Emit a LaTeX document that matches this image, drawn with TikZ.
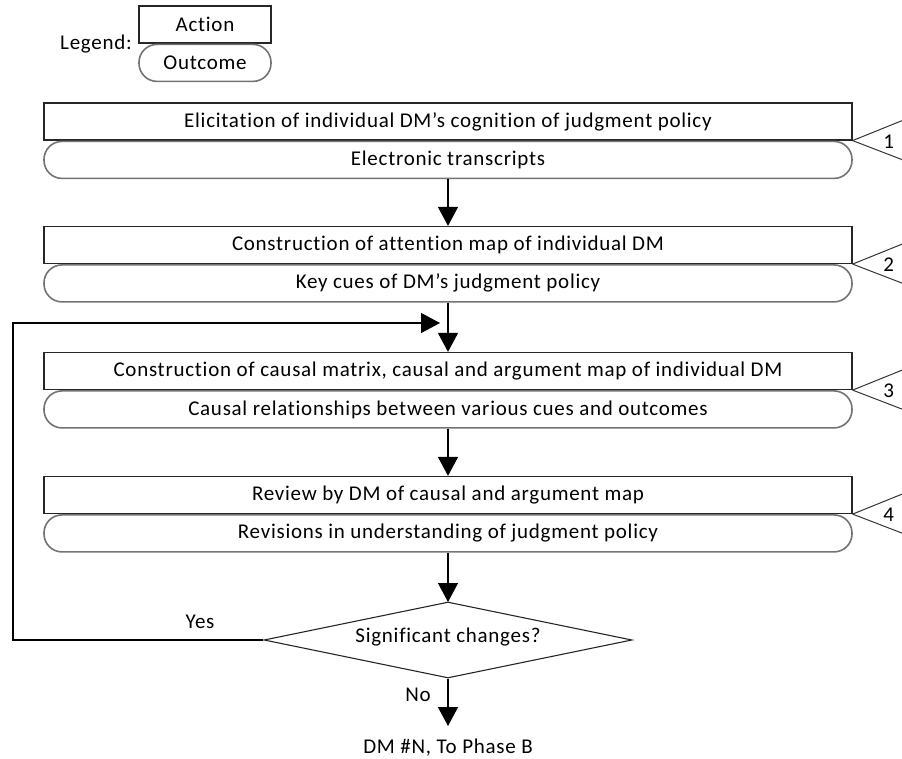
\documentclass[tikz,border=0pt]{standalone}
\usepackage{fontspec}
\setmainfont[LetterSpace=3.5,Ligatures=NoCommon]{Carlito}
\usetikzlibrary{arrows.meta,shapes.geometric,calc}
\begin{document}
\begin{tikzpicture}[x=1pt,y=-1pt,
  font=\fontsize{21}{25}\selectfont,
  actbox/.style={draw=black!85, line width=1.2pt, minimum width=808pt, minimum height=37pt, inner sep=0pt},
  outbox/.style={draw=black!55, line width=1.6pt, minimum width=808pt, minimum height=37pt, inner sep=0pt, rounded corners=18pt, anchor=north},
  legact/.style={draw=black!85, line width=1.2pt, minimum width=132pt, minimum height=37pt, inner sep=0pt},
  legout/.style={draw=black!55, line width=1.6pt, minimum width=132pt, minimum height=37pt, inner sep=0pt, rounded corners=18pt, anchor=north},
  arr/.style={draw=black, line width=1.3pt, -{Triangle[width=20pt,length=19pt]}},
  tri/.style={draw=black!80, line width=1pt},
  lbl/.style={inner sep=0pt}
]
\useasboundingbox (0,0) rectangle (902,759);

% legend
\node[lbl] (leg) at (96,44) {Legend:};
\node[legact] (la) at (205,24.5) {Action};
\node[legout] (lo) at (la.south) {Outcome};

% steps
\node[actbox] (a1) at (448,121.5) {Elicitation of individual DM’s cognition of judgment policy};
\node[outbox] (o1) at (a1.south) {Electronic transcripts};
\node[actbox] (a2) at (448,245) {Construction of attention map of individual DM};
\node[outbox] (o2) at (a2.south) {Key cues of DM’s judgment policy};
\node[actbox] (a3) at (448,371) {Construction of causal matrix, causal and argument map of individual DM};
\node[outbox] (o3) at (a3.south) {Causal relationships between various cues and outcomes};
\node[actbox] (a4) at (448,495) {Review by DM of causal and argument map};
\node[outbox] (o4) at (a4.south) {Revisions in understanding of judgment policy};

% side markers
\foreach \i in {1,2,3,4}{
  \draw[tri] (a\i.south east) -- ++(52,-21);
  \draw[tri] (a\i.south east) -- ++(52,20);
  \path (a\i.south east) ++(36,1) node[lbl] (n\i) {\i};
}

% decision
\node[draw=black!85, line width=1.1pt, shape=diamond, shape aspect=4.84, minimum width=368pt, minimum height=76pt, inner sep=0pt] (d) at (448,640) {};
\node[lbl] (dt) at (448,637) {Significant changes?};

\coordinate (fl) at (13,640);
\coordinate (ft) at (13,323);
\coordinate (fe) at (440,323);
\coordinate (dtop) at (448,602);
\coordinate (endtip) at (448,726);
\node[lbl] (endt) at (448,748) {DM \#N, To Phase B};
\node[lbl] (yes) at (200,622) {Yes};
\node[lbl] (no) at (418,695) {No};

% connectors
\draw[arr] (o1.south) -- (a2.north);
\draw[arr] (o2.south) -- (a3.north);
\draw[arr] (o3.south) -- (a4.north);
\draw[arr] (o4.south) -- (dtop);
\draw[arr] (d.south) -- (endtip);
\draw[arr] (d.west) -- (fl) -- (ft) -- (fe);
\end{tikzpicture}
\end{document}
